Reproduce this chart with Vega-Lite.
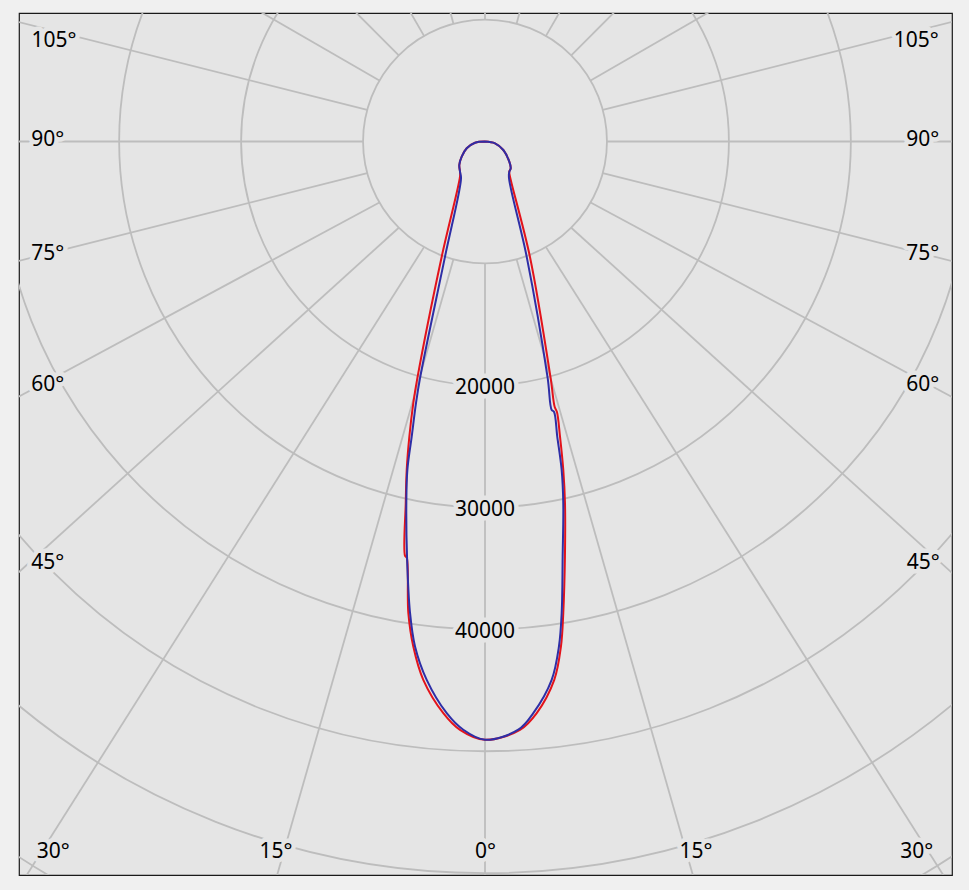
{
  "$schema": "https://vega.github.io/schema/vega-lite/v6.json",
  "width": 933,
  "height": 862,
  "autosize": {"type": "none"},
  "padding": {"left": 19, "top": 13, "right": 17, "bottom": 15},
  "background": "#f0f0f0",
  "config": {
    "view": {"fill": "#e5e5e5", "stroke": "#1a1a1a", "strokeWidth": 1.2}
  },
  "datasets": {
    "circles": [{"r": 10000}, {"r": 20000}, {"r": 30000}, {"r": 40000}, {"r": 50000}, {"r": 60000}, {"r": 70000}],
    "spokes": [
      {"a": 0, "b": 0},
      {"a": 15, "b": 15.8}, {"a": -15, "b": -15.8},
      {"a": 30, "b": 31.9}, {"a": -30, "b": -31.9},
      {"a": 45, "b": 47.3}, {"a": -45, "b": -47.3},
      {"a": 60, "b": 61.4}, {"a": -60, "b": -61.4},
      {"a": 75, "b": 75.7}, {"a": -75, "b": -75.7},
      {"a": 90, "b": 90}, {"a": -90, "b": -90},
      {"a": 105, "b": 104.3}, {"a": -105, "b": -104.3},
      {"a": 120, "b": 120}, {"a": -120, "b": -120},
      {"a": 135, "b": 135}, {"a": -135, "b": -135},
      {"a": 150, "b": 150}, {"a": -150, "b": -150},
      {"a": 165, "b": 165}, {"a": -165, "b": -165},
      {"a": 180, "b": 180}
    ],
    "labels": [
      {"label": "105°", "lx": -35350, "ly": 8241},
      {"label": "90°", "lx": -35859, "ly": 123},
      {"label": "75°", "lx": -35859, "ly": -9225},
      {"label": "60°", "lx": -35859, "ly": -19967},
      {"label": "45°", "lx": -35859, "ly": -34588},
      {"label": "30°", "lx": -35399, "ly": -58236},
      {"label": "15°", "lx": -17138, "ly": -58236},
      {"label": "0°", "lx": 41, "ly": -58236},
      {"label": "15°", "lx": 17302, "ly": -58236},
      {"label": "30°", "lx": 35399, "ly": -58236},
      {"label": "45°", "lx": 35941, "ly": -34588},
      {"label": "60°", "lx": 35891, "ly": -19967},
      {"label": "75°", "lx": 35891, "ly": -9225},
      {"label": "90°", "lx": 35891, "ly": 123},
      {"label": "105°", "lx": 35367, "ly": 8241}
    ],
    "ilabels": [
      {"r": 20000, "label": "20000"},
      {"r": 30000, "label": "30000"},
      {"r": 40000, "label": "40000"}
    ],
    "curve": [
      {"s": "red", "i": 1, "a": -90, "I": 0},
      {"s": "red", "i": 2, "a": -83.2, "I": 825},
      {"s": "red", "i": 3, "a": -69.6, "I": 1600},
      {"s": "red", "i": 4, "a": -56.9, "I": 2280},
      {"s": "red", "i": 5, "a": -47.6, "I": 2855},
      {"s": "red", "i": 6, "a": -39.6, "I": 3215},
      {"s": "red", "i": 7, "a": -35.4, "I": 3540},
      {"s": "red", "i": 8, "a": -20.6, "I": 10090},
      {"s": "red", "i": 9, "a": -15.95, "I": 20200},
      {"s": "red", "i": 10, "a": -15.33, "I": 22230},
      {"s": "red", "i": 11, "a": -14.38, "I": 24980},
      {"s": "red", "i": 12, "a": -13.41, "I": 27680},
      {"s": "red", "i": 13, "a": -12.37, "I": 30340},
      {"s": "red", "i": 14, "a": -10.92, "I": 34610},
      {"s": "red", "i": 15, "a": -10.66, "I": 34710},
      {"s": "red", "i": 16, "a": -9.24, "I": 39160},
      {"s": "red", "i": 17, "a": -8.08, "I": 41830},
      {"s": "red", "i": 18, "a": -6.54, "I": 44430},
      {"s": "red", "i": 19, "a": -4.17, "I": 47000},
      {"s": "red", "i": 20, "a": -2.43, "I": 48290},
      {"s": "red", "i": 21, "a": 0, "I": 49060},
      {"s": "red", "i": 22, "a": 3.4, "I": 48330},
      {"s": "red", "i": 23, "a": 5.17, "I": 47060},
      {"s": "red", "i": 24, "a": 7.33, "I": 44510},
      {"s": "red", "i": 25, "a": 8.55, "I": 41880},
      {"s": "red", "i": 26, "a": 9.43, "I": 39180},
      {"s": "red", "i": 27, "a": 10.9, "I": 34660},
      {"s": "red", "i": 28, "a": 12.48, "I": 30350},
      {"s": "red", "i": 29, "a": 13.41, "I": 27680},
      {"s": "red", "i": 30, "a": 14.26, "I": 24970},
      {"s": "red", "i": 31, "a": 14.9, "I": 22950},
      {"s": "red", "i": 32, "a": 14.71, "I": 22510},
      {"s": "red", "i": 33, "a": 15.5, "I": 20140},
      {"s": "red", "i": 34, "a": 21.3, "I": 10140},
      {"s": "red", "i": 35, "a": 35.4, "I": 3540},
      {"s": "red", "i": 36, "a": 38.8, "I": 3180},
      {"s": "red", "i": 37, "a": 43.8, "I": 3045},
      {"s": "red", "i": 38, "a": 50.3, "I": 2590},
      {"s": "red", "i": 39, "a": 65.1, "I": 1655},
      {"s": "red", "i": 40, "a": 79.8, "I": 835},
      {"s": "red", "i": 41, "a": 90, "I": 0},
      {"s": "blue", "i": 1, "a": -90, "I": 0},
      {"s": "blue", "i": 2, "a": -83.2, "I": 825},
      {"s": "blue", "i": 3, "a": -69.6, "I": 1600},
      {"s": "blue", "i": 4, "a": -56.9, "I": 2280},
      {"s": "blue", "i": 5, "a": -47.6, "I": 2855},
      {"s": "blue", "i": 6, "a": -39.6, "I": 3215},
      {"s": "blue", "i": 7, "a": -33.1, "I": 3600},
      {"s": "blue", "i": 8, "a": -19.15, "I": 9995},
      {"s": "blue", "i": 9, "a": -15.35, "I": 20140},
      {"s": "blue", "i": 10, "a": -14.78, "I": 22170},
      {"s": "blue", "i": 11, "a": -13.95, "I": 24930},
      {"s": "blue", "i": 12, "a": -13.3, "I": 27670},
      {"s": "blue", "i": 13, "a": -12.28, "I": 30330},
      {"s": "blue", "i": 14, "a": -10.64, "I": 34630},
      {"s": "blue", "i": 15, "a": -9.04, "I": 39130},
      {"s": "blue", "i": 16, "a": -7.89, "I": 41800},
      {"s": "blue", "i": 17, "a": -6.18, "I": 44400},
      {"s": "blue", "i": 18, "a": -3.83, "I": 46980},
      {"s": "blue", "i": 19, "a": -2.11, "I": 48270},
      {"s": "blue", "i": 20, "a": 0, "I": 49060},
      {"s": "blue", "i": 21, "a": 3.24, "I": 48310},
      {"s": "blue", "i": 22, "a": 4.83, "I": 47040},
      {"s": "blue", "i": 23, "a": 7.06, "I": 44480},
      {"s": "blue", "i": 24, "a": 8.33, "I": 41850},
      {"s": "blue", "i": 25, "a": 9.24, "I": 39160},
      {"s": "blue", "i": 26, "a": 10.6, "I": 34620},
      {"s": "blue", "i": 27, "a": 12.22, "I": 30320},
      {"s": "blue", "i": 28, "a": 13.14, "I": 27650},
      {"s": "blue", "i": 29, "a": 13.76, "I": 24910},
      {"s": "blue", "i": 30, "a": 14.32, "I": 22870},
      {"s": "blue", "i": 31, "a": 13.95, "I": 22690},
      {"s": "blue", "i": 32, "a": 14.83, "I": 20080},
      {"s": "blue", "i": 33, "a": 19.9, "I": 10040},
      {"s": "blue", "i": 34, "a": 33.3, "I": 3580},
      {"s": "blue", "i": 35, "a": 38.8, "I": 3180},
      {"s": "blue", "i": 36, "a": 43.8, "I": 3045},
      {"s": "blue", "i": 37, "a": 50.3, "I": 2590},
      {"s": "blue", "i": 38, "a": 65.1, "I": 1655},
      {"s": "blue", "i": 39, "a": 79.8, "I": 835},
      {"s": "blue", "i": 40, "a": 90, "I": 0}
    ]
  },
  "layer": [
    {
      "data": {"name": "circles"},
      "mark": {"type": "arc", "filled": false, "stroke": "#bdbdbd", "strokeWidth": 1.8, "clip": true},
      "encoding": {
        "x": {"datum": 0, "type": "quantitative", "scale": {"domain": [-38212, 38294], "nice": false, "zero": false}, "axis": null},
        "y": {"datum": 0, "type": "quantitative", "scale": {"domain": [-60147, 10537], "nice": false, "zero": false}, "axis": null},
        "radius": {"field": "r", "type": "quantitative", "stack": null, "scale": {"type": "linear", "domain": [0, 70000], "range": [0, 853.66], "zero": true, "nice": false}}
      }
    },
    {
      "data": {"name": "spokes"},
      "transform": [
        {"calculate": "10000*sin(datum.a*PI/180)", "as": "x1"},
        {"calculate": "-10000*cos(datum.a*PI/180)", "as": "y1"},
        {"calculate": "110000*sin(datum.b*PI/180) - datum.x1", "as": "x2"},
        {"calculate": "-110000*cos(datum.b*PI/180) - datum.y1", "as": "y2"}
      ],
      "mark": {"type": "rule", "stroke": "#bdbdbd", "strokeWidth": 1.8, "clip": true},
      "encoding": {
        "x": {"field": "x1", "type": "quantitative", "scale": {"domain": [-38212, 38294], "nice": false, "zero": false}, "axis": null},
        "y": {"field": "y1", "type": "quantitative", "scale": {"domain": [-60147, 10537], "nice": false, "zero": false}, "axis": null},
        "x2": {"field": "x2"},
        "y2": {"field": "y2"}
      }
    },
    {
      "data": {"name": "labels"},
      "mark": {"type": "text", "font": "Noto Sans", "fontSize": 21, "align": "center", "baseline": "middle", "fill": "#e5e5e5", "stroke": "#e5e5e5", "strokeWidth": 9, "strokeJoin": "round"},
      "encoding": {
        "x": {"field": "lx", "type": "quantitative", "scale": {"domain": [-38212, 38294], "nice": false, "zero": false}, "axis": null},
        "y": {"field": "ly", "type": "quantitative", "scale": {"domain": [-60147, 10537], "nice": false, "zero": false}, "axis": null},
        "text": {"field": "label"}
      }
    },
    {
      "data": {"name": "labels"},
      "mark": {"type": "text", "font": "Noto Sans", "fontSize": 21, "align": "center", "baseline": "middle", "fill": "#000000"},
      "encoding": {
        "x": {"field": "lx", "type": "quantitative", "scale": {"domain": [-38212, 38294], "nice": false, "zero": false}, "axis": null},
        "y": {"field": "ly", "type": "quantitative", "scale": {"domain": [-60147, 10537], "nice": false, "zero": false}, "axis": null},
        "text": {"field": "label"}
      }
    },
    {
      "data": {"name": "ilabels"},
      "transform": [{"calculate": "-datum.r", "as": "iy"}],
      "mark": {"type": "text", "font": "Noto Sans", "fontSize": 21, "align": "center", "baseline": "middle", "dy": 3, "fill": "#e5e5e5", "stroke": "#e5e5e5", "strokeWidth": 9, "strokeJoin": "round"},
      "encoding": {
        "x": {"datum": 0, "type": "quantitative", "scale": {"domain": [-38212, 38294], "nice": false, "zero": false}, "axis": null},
        "y": {"field": "iy", "type": "quantitative", "scale": {"domain": [-60147, 10537], "nice": false, "zero": false}, "axis": null},
        "text": {"field": "label"}
      }
    },
    {
      "data": {"name": "ilabels"},
      "transform": [{"calculate": "-datum.r", "as": "iy"}],
      "mark": {"type": "text", "font": "Noto Sans", "fontSize": 21, "align": "center", "baseline": "middle", "dy": 3, "fill": "#000000"},
      "encoding": {
        "x": {"datum": 0, "type": "quantitative", "scale": {"domain": [-38212, 38294], "nice": false, "zero": false}, "axis": null},
        "y": {"field": "iy", "type": "quantitative", "scale": {"domain": [-60147, 10537], "nice": false, "zero": false}, "axis": null},
        "text": {"field": "label"}
      }
    },
    {
      "data": {"name": "curve"},
      "transform": [
        {"filter": "datum.s === 'red'"},
        {"calculate": "datum.I*sin(datum.a*PI/180)", "as": "cx"},
        {"calculate": "-datum.I*cos(datum.a*PI/180)", "as": "cy"}
      ],
      "mark": {"type": "line", "color": "#e3131b", "strokeWidth": 2, "interpolate": "catmull-rom", "clip": true},
      "encoding": {
        "x": {"field": "cx", "type": "quantitative", "scale": {"domain": [-38212, 38294], "nice": false, "zero": false}, "axis": null},
        "y": {"field": "cy", "type": "quantitative", "scale": {"domain": [-60147, 10537], "nice": false, "zero": false}, "axis": null},
        "order": {"field": "i", "type": "quantitative"}
      }
    },
    {
      "data": {"name": "curve"},
      "transform": [
        {"filter": "datum.s === 'blue'"},
        {"calculate": "datum.I*sin(datum.a*PI/180)", "as": "cx"},
        {"calculate": "-datum.I*cos(datum.a*PI/180)", "as": "cy"}
      ],
      "mark": {"type": "line", "color": "#2e2ea6", "strokeWidth": 2, "interpolate": "catmull-rom", "clip": true},
      "encoding": {
        "x": {"field": "cx", "type": "quantitative", "scale": {"domain": [-38212, 38294], "nice": false, "zero": false}, "axis": null},
        "y": {"field": "cy", "type": "quantitative", "scale": {"domain": [-60147, 10537], "nice": false, "zero": false}, "axis": null},
        "order": {"field": "i", "type": "quantitative"}
      }
    }
  ]
}
